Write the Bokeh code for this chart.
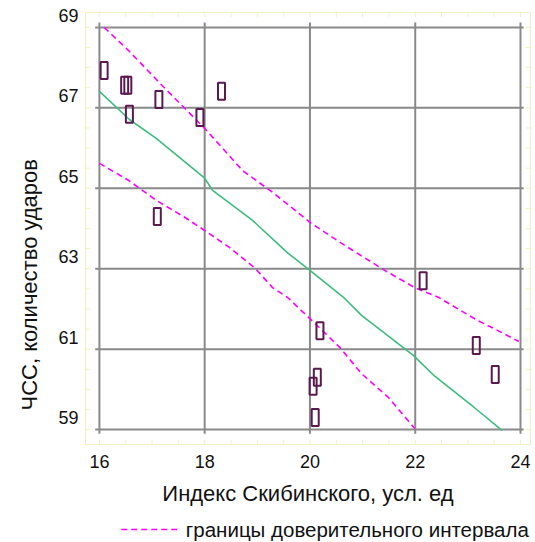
from bokeh.plotting import figure
from bokeh.models import Range1d, FixedTicker, Title
from bokeh.core.properties import value
from bokeh.layouts import column
from bokeh.embed import file_html
from bokeh.resources import INLINE

# ---- data ----
idx_x = [16.09, 16.48, 16.54, 16.57, 17.13, 17.91, 18.32, 17.10, 20.19, 20.14, 20.06, 20.10, 22.15, 23.16, 23.52]
hr_y = [67.63, 67.26, 67.26, 66.54, 66.91, 66.46, 67.11, 64.00, 61.16, 60.00, 59.78, 59.00, 62.40, 60.79, 60.07]

fit_x = [16.0, 16.57, 17.08, 18.0, 18.15, 18.91, 19.57, 20.0, 20.66, 20.98, 21.97, 22.36, 23.12, 23.65]
fit_y = [67.11, 66.41, 65.94, 64.95, 64.65, 63.90, 63.10, 62.66, 61.96, 61.54, 60.54, 60.04, 59.25, 58.68]

upper_x = [16.09, 16.55, 17.21, 18.0, 18.72, 19.29, 19.72, 20.0, 20.66, 21.42, 21.99, 22.44, 23.19, 23.50, 23.97]
upper_y = [68.70, 68.13, 67.23, 66.19, 65.14, 64.60, 64.15, 63.85, 63.28, 62.66, 62.23, 61.99, 61.41, 61.21, 60.89]

lower_x = [16.0, 16.55, 17.08, 17.62, 18.0, 18.47, 18.96, 19.29, 19.57, 20.0, 20.57, 20.98, 21.49, 21.99]
lower_y = [65.32, 64.90, 64.40, 63.98, 63.65, 63.23, 62.71, 62.23, 61.99, 61.46, 60.74, 60.09, 59.50, 58.73]

x_ticks = [16, 18, 20, 22, 24]
y_ticks = [59, 61, 63, 65, 67, 69]
y_grid = [58.7, 60.7, 62.7, 64.7, 66.7, 68.7]

x_title = "Индекс Скибинского, усл. ед"
y_title = "ЧСС, количество ударов"
legend_label = "границы доверительного интервала"

FONT = "Liberation Sans"
YEL = "#F3F0BE"
GRID = "#8A8A8A"
MAG = "#FF00FF"
TXT = "#111111"

p = figure(width=535, height=516, output_backend="svg", toolbar_location=None,
           x_range=Range1d(15.736, 24.19), y_range=Range1d(58.33, 69.07),
           min_border_left=82, min_border_right=5, min_border_top=12, min_border_bottom=72)
p.xgrid.visible = False
p.ygrid.visible = False
p.outline_line_color = YEL
p.outline_line_width = 1

# frame minor ticks (pale yellow)
xr0, xr1 = p.x_range.start, p.x_range.end
yr0, yr1 = p.y_range.start, p.y_range.end
xm = [x_ticks[0] + 0.5 * k for k in range(int((x_ticks[-1] - x_ticks[0]) * 2) + 1)]
ym = [y_grid[0] + 0.5 * k for k in range(int(round((y_grid[-1] - y_grid[0]) * 2)) + 1)]
tx, ty = 0.09, 0.12
p.segment(x0=xm, y0=[yr0] * len(xm), x1=xm, y1=[yr0 + ty] * len(xm), line_color=YEL, line_width=1)
p.segment(x0=xm, y0=[yr1] * len(xm), x1=xm, y1=[yr1 - ty] * len(xm), line_color=YEL, line_width=1)
p.segment(x0=[xr0] * len(ym), y0=ym, x1=[xr0 + tx] * len(ym), y1=ym, line_color=YEL, line_width=1)
p.segment(x0=[xr1] * len(ym), y0=ym, x1=[xr1 - tx] * len(ym), y1=ym, line_color=YEL, line_width=1)

# grid
gx0, gx1 = x_ticks[0] - 0.08, x_ticks[-1] + 0.06
gy0, gy1 = y_grid[0] - 0.1, y_grid[-1] + 0.12
p.segment(x0=x_ticks, y0=[gy0] * len(x_ticks), x1=x_ticks, y1=[gy1] * len(x_ticks),
          line_color=GRID, line_width=2)
p.segment(x0=[gx0] * len(y_grid), y0=y_grid, x1=[gx1] * len(y_grid), y1=y_grid,
          line_color=GRID, line_width=2)

# lines
p.line(upper_x, upper_y, line_color=MAG, line_width=1.6, line_dash="6 4")
p.line(lower_x, lower_y, line_color=MAG, line_width=1.6, line_dash="6 4")
p.line(fit_x, fit_y, line_color="#3DBD7D", line_width=1.6)

# points
p.rect(idx_x, hr_y, width=7, height=17, width_units="screen", height_units="screen",
       fill_alpha=0, line_color="#5A1A50", line_width=2)

# axes
for ax in (p.xaxis[0], p.yaxis[0]):
    ax.major_tick_line_color = None
    ax.minor_tick_line_color = None
    ax.major_tick_out = 0
    ax.major_tick_in = 0
    ax.minor_tick_out = 0
    ax.minor_tick_in = 0
    ax.axis_line_color = None
    ax.major_label_text_font = FONT
    ax.major_label_text_font_size = "18px"
    ax.major_label_text_color = TXT

p.xaxis.ticker = FixedTicker(ticks=x_ticks, minor_ticks=[])
p.yaxis.ticker = FixedTicker(ticks=y_ticks, minor_ticks=[])
p.xaxis.major_label_standoff = 10
p.yaxis.major_label_standoff = 7
p.xaxis.axis_label = x_title
p.xaxis.axis_label_text_font = FONT
p.xaxis.axis_label_text_font_size = "22px"
p.xaxis.axis_label_text_font_style = "normal"
p.xaxis.axis_label_text_color = TXT
p.xaxis.axis_label_standoff = 10

t = Title(text=y_title, align="left", offset=34, text_font=FONT, text_font_size="22px",
          text_font_style="normal", text_color=TXT, standoff=28)
p.add_layout(t, "left")

# legend strip below the chart (frame aligned with the chart frame; units = page pixels)
key_x = [118, 177]
key_y = [13, 13]
lf = figure(width=535, height=26, output_backend="svg", toolbar_location=None,
            x_range=Range1d(82, 530), y_range=Range1d(0, 26),
            min_border_left=82, min_border_right=5, min_border_top=0, min_border_bottom=0,
            x_axis_location=None, y_axis_location=None)
lf.grid.visible = False
lf.outline_line_color = None
lf.line(key_x, key_y, line_color=MAG, line_width=1.6, line_dash="6 4")
lf.text(x=[183], y=[13], text=[legend_label], text_font=value(FONT), text_font_size="20.5px",
        text_color=TXT, text_baseline="middle", text_align="left")

open("out.html", "w").write(file_html(column(p, lf, spacing=0), INLINE))
